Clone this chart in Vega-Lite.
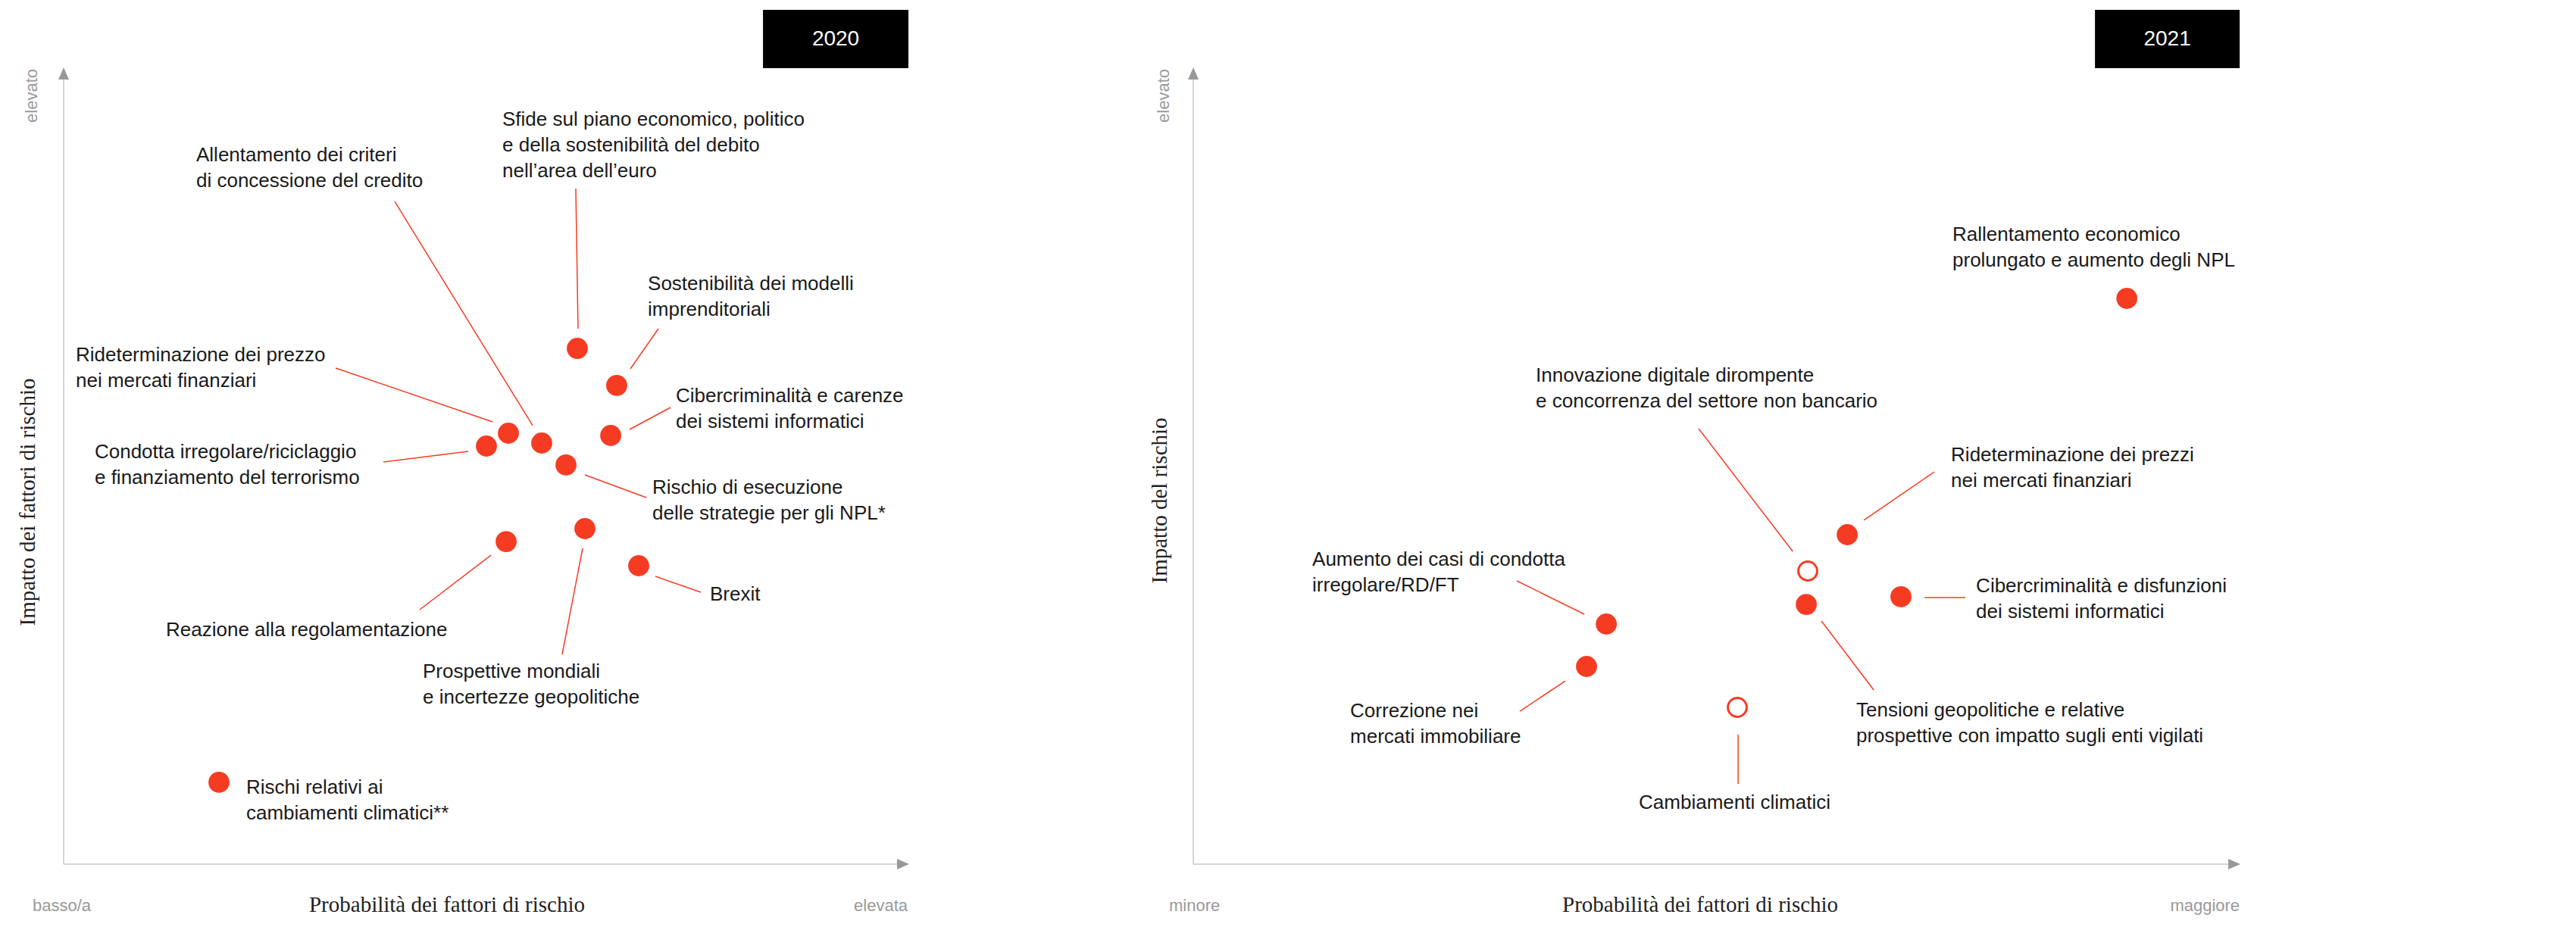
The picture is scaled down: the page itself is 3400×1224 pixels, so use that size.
{
  "$schema": "https://vega.github.io/schema/vega-lite/v6.json",
  "padding": 0,
  "spacing": 0,
  "bounds": "flush",
  "background": "white",
  "config": {"view": {"stroke": null}, "text": {"font": "Liberation Sans"}},
  "datasets": {
    "rischi": [
      {"anno": "2020", "tipo": "esistente", "prob": 60.75, "impatto": 64.73, "lx1": 60.57, "ly1": 84.79, "lx2": 60.84, "ly2": 67.21, "tx": 51.88, "ty": 92.68, "etichetta": ["Sfide sul piano economico, politico", "e della sostenibilità del debito", "nell’area dell’euro"]},
      {"anno": "2020", "tipo": "esistente", "prob": 65.41, "impatto": 60.08, "lx1": 70.34, "ly1": 67.21, "lx2": 67.03, "ly2": 62.17, "tx": 69.09, "ty": 72.05, "etichetta": ["Sostenibilità dei modelli", "imprenditoriali"]},
      {"anno": "2020", "tipo": "esistente", "prob": 64.70, "impatto": 53.80, "lx1": 71.77, "ly1": 57.32, "lx2": 66.94, "ly2": 54.56, "tx": 72.40, "ty": 57.98, "etichetta": ["Cibercriminalità e carenze", "dei sistemi informatici"]},
      {"anno": "2020", "tipo": "esistente", "prob": 52.60, "impatto": 54.09, "lx1": 32.17, "ly1": 62.26, "lx2": 50.72, "ly2": 55.51, "tx": 1.43, "ty": 63.12, "etichetta": ["Rideterminazione dei prezzo", "nei mercati finanziari"]},
      {"anno": "2020", "tipo": "esistente", "prob": 56.54, "impatto": 52.85, "lx1": 39.16, "ly1": 83.17, "lx2": 55.47, "ly2": 55.04, "tx": 15.68, "ty": 88.21, "etichetta": ["Allentamento dei criteri", "di concessione del credito"]},
      {"anno": "2020", "tipo": "esistente", "prob": 50.00, "impatto": 52.47, "lx1": 47.85, "ly1": 51.81, "lx2": 37.81, "ly2": 50.48, "tx": 3.67, "ty": 50.95, "etichetta": ["Condotta irregolare/riciclaggio", "e finanziamento del terrorismo"]},
      {"anno": "2020", "tipo": "esistente", "prob": 59.41, "impatto": 50.10, "lx1": 61.65, "ly1": 48.86, "lx2": 68.91, "ly2": 46.01, "tx": 69.62, "ty": 46.48, "etichetta": ["Rischio di esecuzione", "delle strategie per gli NPL*"]},
      {"anno": "2020", "tipo": "esistente", "prob": 61.65, "impatto": 42.11, "lx1": 61.38, "ly1": 39.64, "lx2": 58.96, "ly2": 26.33, "tx": 42.47, "ty": 23.38, "etichetta": ["Prospettive mondiali", "e incertezze geopolitiche"]},
      {"anno": "2020", "tipo": "esistente", "prob": 52.33, "impatto": 40.49, "lx1": 50.54, "ly1": 38.78, "lx2": 42.11, "ly2": 31.94, "tx": 12.10, "ty": 28.61, "etichetta": ["Reazione alla regolamentazione"]},
      {"anno": "2020", "tipo": "esistente", "prob": 68.01, "impatto": 37.45, "lx1": 69.98, "ly1": 36.12, "lx2": 75.36, "ly2": 34.13, "tx": 76.43, "ty": 33.08, "etichetta": ["Brexit"]},
      {"anno": "2020", "tipo": "esistente", "prob": 18.37, "impatto": 10.27, "lx1": null, "ly1": null, "lx2": null, "ly2": null, "tx": 21.59, "ty": 8.84, "etichetta": ["Rischi relativi ai", "cambiamenti climatici**"]},
      {"anno": "2021", "tipo": "esistente", "prob": 89.15, "impatto": 71.01, "lx1": null, "ly1": null, "lx2": null, "ly2": null, "tx": 72.50, "ty": 78.23, "etichetta": ["Rallentamento economico", "prolungato e aumento degli NPL"]},
      {"anno": "2021", "tipo": "esistente", "prob": 62.45, "impatto": 41.35, "lx1": 64.04, "ly1": 43.16, "lx2": 70.77, "ly2": 49.24, "tx": 72.36, "ty": 50.57, "etichetta": ["Rideterminazione dei prezzi", "nei mercati finanziari"]},
      {"anno": "2021", "tipo": "nuovo", "prob": 58.68, "impatto": 36.79, "lx1": 48.26, "ly1": 54.66, "lx2": 57.24, "ly2": 39.26, "tx": 32.71, "ty": 60.55, "etichetta": ["Innovazione digitale dirompente", "e concorrenza del settore non bancario"]},
      {"anno": "2021", "tipo": "esistente", "prob": 67.58, "impatto": 33.56, "lx1": 69.83, "ly1": 33.46, "lx2": 73.73, "ly2": 33.46, "tx": 74.75, "ty": 34.13, "etichetta": ["Cibercriminalità e disfunzioni", "dei sistemi informatici"]},
      {"anno": "2021", "tipo": "esistente", "prob": 58.54, "impatto": 32.60, "lx1": 59.99, "ly1": 30.51, "lx2": 64.98, "ly2": 21.86, "tx": 63.31, "ty": 18.54, "etichetta": ["Tensioni geopolitiche e relative", "prospettive con impatto sugli enti vigilati"]},
      {"anno": "2021", "tipo": "esistente", "prob": 39.44, "impatto": 30.13, "lx1": 30.90, "ly1": 35.55, "lx2": 37.34, "ly2": 31.37, "tx": 11.36, "ty": 37.45, "etichetta": ["Aumento dei casi di condotta", "irregolare/RD/FT"]},
      {"anno": "2021", "tipo": "esistente", "prob": 37.55, "impatto": 24.81, "lx1": 35.53, "ly1": 23.00, "lx2": 31.19, "ly2": 19.20, "tx": 14.98, "ty": 18.44, "etichetta": ["Correzione nei", "mercati immobiliare"]},
      {"anno": "2021", "tipo": "nuovo", "prob": 51.95, "impatto": 19.68, "lx1": 52.03, "ly1": 16.25, "lx2": 52.03, "ly2": 10.08, "tx": 42.55, "ty": 6.94, "etichetta": ["Cambiamenti climatici"]}
    ]
  },
  "hconcat": [
    {
      "width": 1250,
      "height": 1224,
      "layer": [
        {"data": {"values": [{}]}, "mark": {"type": "rule", "color": "#c8c8c8", "strokeWidth": 1.5},
         "encoding": {"x": {"datum": 0, "type": "quantitative", "scale": {"domain": [-7.527, 104.48], "nice": false, "zero": false}, "axis": null},
                      "x2": {"datum": 99.4},
                      "y": {"datum": 0, "type": "quantitative", "scale": {"domain": [-7.89, 108.46], "nice": false, "zero": false}, "axis": null}}},
        {"data": {"values": [{}]}, "mark": {"type": "rule", "color": "#c8c8c8", "strokeWidth": 1.5},
         "encoding": {"x": {"datum": 0, "type": "quantitative", "scale": {"domain": [-7.527, 104.48], "nice": false, "zero": false}, "axis": null},
                      "y": {"datum": 0, "type": "quantitative", "scale": {"domain": [-7.89, 108.46], "nice": false, "zero": false}, "axis": null},
                      "y2": {"datum": 99.3}}},
        {"data": {"values": [{}]}, "mark": {"type": "point", "shape": "M0,-1L0.875,1L-0.875,1Z", "size": 256, "filled": true, "color": "#999999", "opacity": 1},
         "encoding": {"x": {"datum": 0, "type": "quantitative", "scale": {"domain": [-7.527, 104.48], "nice": false, "zero": false}, "axis": null},
                      "y": {"datum": 99.24, "type": "quantitative", "scale": {"domain": [-7.89, 108.46], "nice": false, "zero": false}, "axis": null}}},
        {"data": {"values": [{}]}, "mark": {"type": "point", "shape": "M1,0L-1,0.875L-1,-0.875Z", "size": 256, "filled": true, "color": "#999999", "opacity": 1},
         "encoding": {"x": {"datum": 99.28, "type": "quantitative", "scale": {"domain": [-7.527, 104.48], "nice": false, "zero": false}, "axis": null},
                      "y": {"datum": 0, "type": "quantitative", "scale": {"domain": [-7.89, 108.46], "nice": false, "zero": false}, "axis": null}}},
        {"data": {"name": "rischi"},
         "transform": [{"filter": "datum.anno === '2020' && isValid(datum.lx1)"}],
         "mark": {"type": "rule", "color": "#f53c23", "strokeWidth": 1.5},
         "encoding": {"x": {"field": "lx1", "type": "quantitative", "scale": {"domain": [-7.527, 104.48], "nice": false, "zero": false}, "axis": null},
                      "y": {"field": "ly1", "type": "quantitative", "scale": {"domain": [-7.89, 108.46], "nice": false, "zero": false}, "axis": null},
                      "x2": {"field": "lx2"}, "y2": {"field": "ly2"}}},
        {"data": {"name": "rischi"},
         "transform": [{"filter": "datum.anno === '2020'"}],
         "mark": {"type": "point", "shape": "circle", "size": 616, "stroke": "#f53c23", "strokeWidth": 3, "opacity": 1, "fillOpacity": 1, "strokeOpacity": 1},
         "encoding": {"x": {"field": "prob", "type": "quantitative", "scale": {"domain": [-7.527, 104.48], "nice": false, "zero": false}, "axis": null},
                      "y": {"field": "impatto", "type": "quantitative", "scale": {"domain": [-7.89, 108.46], "nice": false, "zero": false}, "axis": null},
                      "fill": {"field": "tipo", "type": "nominal", "scale": {"domain": ["esistente", "nuovo"], "range": ["#f53c23", "#ffffff"]}, "legend": null}}},
        {"data": {"name": "rischi"},
         "transform": [{"filter": "datum.anno === '2020'"}],
         "mark": {"type": "text", "align": "left", "baseline": "alphabetic", "fontSize": 26, "lineHeight": 34, "color": "#1a1a1a", "font": "Liberation Sans"},
         "encoding": {"x": {"field": "tx", "type": "quantitative", "scale": {"domain": [-7.527, 104.48], "nice": false, "zero": false}, "axis": null},
                      "y": {"field": "ty", "type": "quantitative", "scale": {"domain": [-7.89, 108.46], "nice": false, "zero": false}, "axis": null},
                      "text": {"field": "etichetta"}}},
        {"data": {"values": [{}]}, "mark": {"type": "text", "text": "elevato", "angle": 270, "align": "right", "baseline": "alphabetic", "fontSize": 22, "color": "#9a9a9a", "font": "Liberation Sans"},
         "encoding": {"x": {"datum": -3.14, "type": "quantitative", "scale": {"domain": [-7.527, 104.48], "nice": false, "zero": false}, "axis": null},
                      "y": {"datum": 99.81, "type": "quantitative", "scale": {"domain": [-7.89, 108.46], "nice": false, "zero": false}, "axis": null}}},
        {"data": {"values": [{}]}, "mark": {"type": "text", "text": "Impatto dei fattori di rischio", "angle": 270, "align": "center", "baseline": "alphabetic", "fontSize": 29, "color": "#222222", "font": "Liberation Serif"},
         "encoding": {"x": {"datum": -3.41, "type": "quantitative", "scale": {"domain": [-7.527, 104.48], "nice": false, "zero": false}, "axis": null},
                      "y": {"datum": 45.44, "type": "quantitative", "scale": {"domain": [-7.89, 108.46], "nice": false, "zero": false}, "axis": null}}},
        {"data": {"values": [{}]}, "mark": {"type": "text", "text": "basso/a", "align": "left", "baseline": "alphabetic", "fontSize": 22, "color": "#9a9a9a", "font": "Liberation Sans"},
         "encoding": {"x": {"datum": -3.67, "type": "quantitative", "scale": {"domain": [-7.527, 104.48], "nice": false, "zero": false}, "axis": null},
                      "y": {"datum": -5.89, "type": "quantitative", "scale": {"domain": [-7.89, 108.46], "nice": false, "zero": false}, "axis": null}}},
        {"data": {"values": [{}]}, "mark": {"type": "text", "text": "elevata", "align": "right", "baseline": "alphabetic", "fontSize": 22, "color": "#9a9a9a", "font": "Liberation Sans"},
         "encoding": {"x": {"datum": 99.82, "type": "quantitative", "scale": {"domain": [-7.527, 104.48], "nice": false, "zero": false}, "axis": null},
                      "y": {"datum": -5.89, "type": "quantitative", "scale": {"domain": [-7.89, 108.46], "nice": false, "zero": false}, "axis": null}}},
        {"data": {"values": [{}]}, "mark": {"type": "text", "text": "Probabilità dei fattori di rischio", "align": "center", "baseline": "alphabetic", "fontSize": 29, "color": "#222222", "font": "Liberation Serif"},
         "encoding": {"x": {"datum": 45.34, "type": "quantitative", "scale": {"domain": [-7.527, 104.48], "nice": false, "zero": false}, "axis": null},
                      "y": {"datum": -5.99, "type": "quantitative", "scale": {"domain": [-7.89, 108.46], "nice": false, "zero": false}, "axis": null}}},
        {"data": {"values": [{}]}, "mark": {"type": "rect", "color": "#000000", "opacity": 1},
         "encoding": {"x": {"datum": 82.71, "type": "quantitative", "scale": {"domain": [-7.527, 104.48], "nice": false, "zero": false}, "axis": null},
                      "x2": {"datum": 99.91},
                      "y": {"datum": 99.90, "type": "quantitative", "scale": {"domain": [-7.89, 108.46], "nice": false, "zero": false}, "axis": null},
                      "y2": {"datum": 107.22}}},
        {"data": {"values": [{}]}, "mark": {"type": "text", "text": "2020", "align": "center", "baseline": "alphabetic", "fontSize": 28, "color": "#ffffff", "font": "Liberation Sans"},
         "encoding": {"x": {"datum": 91.31, "type": "quantitative", "scale": {"domain": [-7.527, 104.48], "nice": false, "zero": false}, "axis": null},
                      "y": {"datum": 102.76, "type": "quantitative", "scale": {"domain": [-7.89, 108.46], "nice": false, "zero": false}, "axis": null}}}
      ]
    },
    {
      "width": 2150,
      "height": 1224,
      "layer": [
        {"data": {"values": [{}]}, "mark": {"type": "rule", "color": "#c8c8c8", "strokeWidth": 1.5},
         "encoding": {"x": {"datum": 0, "type": "quantitative", "scale": {"domain": [-23.52, 132.05], "nice": false, "zero": false}, "axis": null},
                      "x2": {"datum": 99.5},
                      "y": {"datum": 0, "type": "quantitative", "scale": {"domain": [-7.89, 108.46], "nice": false, "zero": false}, "axis": null}}},
        {"data": {"values": [{}]}, "mark": {"type": "rule", "color": "#c8c8c8", "strokeWidth": 1.5},
         "encoding": {"x": {"datum": 0, "type": "quantitative", "scale": {"domain": [-23.52, 132.05], "nice": false, "zero": false}, "axis": null},
                      "y": {"datum": 0, "type": "quantitative", "scale": {"domain": [-7.89, 108.46], "nice": false, "zero": false}, "axis": null},
                      "y2": {"datum": 99.3}}},
        {"data": {"values": [{}]}, "mark": {"type": "point", "shape": "M0,-1L0.875,1L-0.875,1Z", "size": 256, "filled": true, "color": "#999999", "opacity": 1},
         "encoding": {"x": {"datum": 0, "type": "quantitative", "scale": {"domain": [-23.52, 132.05], "nice": false, "zero": false}, "axis": null},
                      "y": {"datum": 99.24, "type": "quantitative", "scale": {"domain": [-7.89, 108.46], "nice": false, "zero": false}, "axis": null}}},
        {"data": {"values": [{}]}, "mark": {"type": "point", "shape": "M1,0L-1,0.875L-1,-0.875Z", "size": 256, "filled": true, "color": "#999999", "opacity": 1},
         "encoding": {"x": {"datum": 99.42, "type": "quantitative", "scale": {"domain": [-23.52, 132.05], "nice": false, "zero": false}, "axis": null},
                      "y": {"datum": 0, "type": "quantitative", "scale": {"domain": [-7.89, 108.46], "nice": false, "zero": false}, "axis": null}}},
        {"data": {"name": "rischi"},
         "transform": [{"filter": "datum.anno === '2021' && isValid(datum.lx1)"}],
         "mark": {"type": "rule", "color": "#f53c23", "strokeWidth": 1.5},
         "encoding": {"x": {"field": "lx1", "type": "quantitative", "scale": {"domain": [-23.52, 132.05], "nice": false, "zero": false}, "axis": null},
                      "y": {"field": "ly1", "type": "quantitative", "scale": {"domain": [-7.89, 108.46], "nice": false, "zero": false}, "axis": null},
                      "x2": {"field": "lx2"}, "y2": {"field": "ly2"}}},
        {"data": {"name": "rischi"},
         "transform": [{"filter": "datum.anno === '2021'"}],
         "mark": {"type": "point", "shape": "circle", "size": 616, "stroke": "#f53c23", "strokeWidth": 3, "opacity": 1, "fillOpacity": 1, "strokeOpacity": 1},
         "encoding": {"x": {"field": "prob", "type": "quantitative", "scale": {"domain": [-23.52, 132.05], "nice": false, "zero": false}, "axis": null},
                      "y": {"field": "impatto", "type": "quantitative", "scale": {"domain": [-7.89, 108.46], "nice": false, "zero": false}, "axis": null},
                      "fill": {"field": "tipo", "type": "nominal", "scale": {"domain": ["esistente", "nuovo"], "range": ["#f53c23", "#ffffff"]}, "legend": null}}},
        {"data": {"name": "rischi"},
         "transform": [{"filter": "datum.anno === '2021'"}],
         "mark": {"type": "text", "align": "left", "baseline": "alphabetic", "fontSize": 26, "lineHeight": 34, "color": "#1a1a1a", "font": "Liberation Sans"},
         "encoding": {"x": {"field": "tx", "type": "quantitative", "scale": {"domain": [-23.52, 132.05], "nice": false, "zero": false}, "axis": null},
                      "y": {"field": "ty", "type": "quantitative", "scale": {"domain": [-7.89, 108.46], "nice": false, "zero": false}, "axis": null},
                      "text": {"field": "etichetta"}}},
        {"data": {"values": [{}]}, "mark": {"type": "text", "text": "elevato", "angle": 270, "align": "right", "baseline": "alphabetic", "fontSize": 22, "color": "#9a9a9a", "font": "Liberation Sans"},
         "encoding": {"x": {"datum": -2.32, "type": "quantitative", "scale": {"domain": [-23.52, 132.05], "nice": false, "zero": false}, "axis": null},
                      "y": {"datum": 99.81, "type": "quantitative", "scale": {"domain": [-7.89, 108.46], "nice": false, "zero": false}, "axis": null}}},
        {"data": {"values": [{}]}, "mark": {"type": "text", "text": "Impatto del rischio", "angle": 270, "align": "center", "baseline": "alphabetic", "fontSize": 29, "color": "#222222", "font": "Liberation Serif"},
         "encoding": {"x": {"datum": -2.53, "type": "quantitative", "scale": {"domain": [-23.52, 132.05], "nice": false, "zero": false}, "axis": null},
                      "y": {"datum": 45.63, "type": "quantitative", "scale": {"domain": [-7.89, 108.46], "nice": false, "zero": false}, "axis": null}}},
        {"data": {"values": [{}]}, "mark": {"type": "text", "text": "minore", "align": "left", "baseline": "alphabetic", "fontSize": 22, "color": "#9a9a9a", "font": "Liberation Sans"},
         "encoding": {"x": {"datum": -2.32, "type": "quantitative", "scale": {"domain": [-23.52, 132.05], "nice": false, "zero": false}, "axis": null},
                      "y": {"datum": -5.89, "type": "quantitative", "scale": {"domain": [-7.89, 108.46], "nice": false, "zero": false}, "axis": null}}},
        {"data": {"values": [{}]}, "mark": {"type": "text", "text": "maggiore", "align": "right", "baseline": "alphabetic", "fontSize": 22, "color": "#9a9a9a", "font": "Liberation Sans"},
         "encoding": {"x": {"datum": 99.93, "type": "quantitative", "scale": {"domain": [-23.52, 132.05], "nice": false, "zero": false}, "axis": null},
                      "y": {"datum": -5.89, "type": "quantitative", "scale": {"domain": [-7.89, 108.46], "nice": false, "zero": false}, "axis": null}}},
        {"data": {"values": [{}]}, "mark": {"type": "text", "text": "Probabilità dei fattori di rischio", "align": "center", "baseline": "alphabetic", "fontSize": 29, "color": "#222222", "font": "Liberation Serif"},
         "encoding": {"x": {"datum": 48.41, "type": "quantitative", "scale": {"domain": [-23.52, 132.05], "nice": false, "zero": false}, "axis": null},
                      "y": {"datum": -5.99, "type": "quantitative", "scale": {"domain": [-7.89, 108.46], "nice": false, "zero": false}, "axis": null}}},
        {"data": {"values": [{}]}, "mark": {"type": "rect", "color": "#000000", "opacity": 1},
         "encoding": {"x": {"datum": 86.11, "type": "quantitative", "scale": {"domain": [-23.52, 132.05], "nice": false, "zero": false}, "axis": null},
                      "x2": {"datum": 99.93},
                      "y": {"datum": 99.90, "type": "quantitative", "scale": {"domain": [-7.89, 108.46], "nice": false, "zero": false}, "axis": null},
                      "y2": {"datum": 107.22}}},
        {"data": {"values": [{}]}, "mark": {"type": "text", "text": "2021", "align": "center", "baseline": "alphabetic", "fontSize": 28, "color": "#ffffff", "font": "Liberation Sans"},
         "encoding": {"x": {"datum": 93.02, "type": "quantitative", "scale": {"domain": [-23.52, 132.05], "nice": false, "zero": false}, "axis": null},
                      "y": {"datum": 102.76, "type": "quantitative", "scale": {"domain": [-7.89, 108.46], "nice": false, "zero": false}, "axis": null}}}
      ]
    }
  ]
}
